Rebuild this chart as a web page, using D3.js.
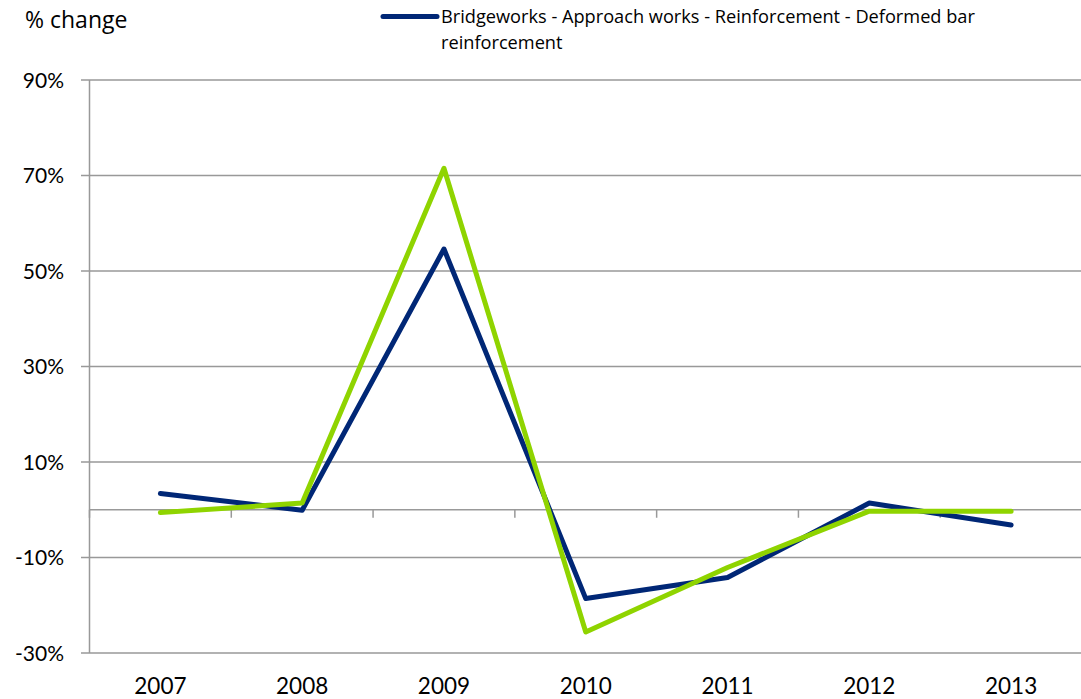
<!DOCTYPE html>
<html><head><meta charset="utf-8">
<script src="https://cdn.jsdelivr.net/npm/d3@7"></script>
<style>
body{margin:0;background:#fff;}
text{font-family:Lato,"Open Sans",sans-serif;fill:#000;}
text.os{font-family:"Open Sans",Lato,sans-serif;}
</style></head><body>
<svg id="c" width="1081" height="699"></svg>
<script>
const years = ["2007","2008","2009","2010","2011","2012","2013"];
const seriesNames = ["Bridgeworks - Approach works - Reinforcement - Deformed bar reinforcement", "Comparison"];
const blueValues = [3.4, -0.1, 54.6, -18.6, -14.2, 1.4, -3.2];
const greenValues = [-0.6, 1.4, 71.5, -25.6, -12.1, -0.3, -0.3];
const yTicks = [-30, -10, 10, 30, 50, 70, 90];
const colors = ["#002776", "#8fd400"];

const svg = d3.select("#c");
const x = d3.scaleBand().domain(years).range([89.5, 1082]);
const y = d3.scaleLinear().domain([-30, 90]).range([653, 80]);

// gridlines
svg.append("g").selectAll("line").data(yTicks).join("line")
  .attr("x1", 81).attr("x2", 1081)
  .attr("y1", d => y(d)).attr("y2", d => y(d))
  .attr("stroke", "#999").attr("stroke-width", 1.5);

// y axis line
svg.append("line").attr("x1", 89.5).attr("x2", 89.5).attr("y1", y(90)).attr("y2", y(-30))
  .attr("stroke", "#999").attr("stroke-width", 1.5);

// zero axis with ticks
const xAxis = d3.axisBottom(x).tickSize(0).tickFormat("");
const zg = svg.append("g").attr("transform", `translate(0,${y(0)})`).call(xAxis);
zg.select(".domain").attr("stroke", "#999").attr("stroke-width", 1.5).attr("d", `M89.5,0H1081`);
const bounds = years.slice(1).map(yr => x(yr));
zg.selectAll(".bt").data([89.5].concat(bounds)).join("line").attr("class","bt")
  .attr("x1", d => d).attr("x2", d => d).attr("y1", 0).attr("y2", 8)
  .attr("stroke", "#999").attr("stroke-width", 1.5);

// y labels
svg.append("g").selectAll("text").data(yTicks).join("text")
  .attr("x", 64).attr("y", d => y(d)).attr("dy", "0.36em")
  .attr("text-anchor", "end").attr("font-size", 21)
  .text(d => d + "%");

// x labels
svg.append("g").selectAll("text").data(years).join("text")
  .attr("x", d => x(d) + x.bandwidth()/2).attr("y", 694)
  .attr("text-anchor", "middle").attr("font-size", 22.5)
  .text(d => d);

// title
svg.append("text").attr("class","os").attr("x", 25).attr("y", 28).attr("font-size", 23).text("% change");

// lines
const line = d3.line().x((d,i) => x(years[i]) + x.bandwidth()/2).y(d => y(d));
[blueValues, greenValues].forEach((vals, k) => {
  svg.append("path").datum(vals).attr("d", line)
    .attr("fill", "none").attr("stroke", colors[k]).attr("stroke-width", 5)
    .attr("stroke-linejoin", "round").attr("stroke-linecap", "round");
});

// legend
svg.append("line").attr("x1", 383).attr("x2", 437).attr("y1", 16.5).attr("y2", 16.5)
  .attr("stroke", colors[0]).attr("stroke-width", 5).attr("stroke-linecap", "round");
const lg = svg.append("text").attr("class","os").attr("x", 441).attr("font-size", 18.2);
lg.append("tspan").attr("x", 441).attr("y", 22.5).text("Bridgeworks - Approach works - Reinforcement - Deformed bar");
lg.append("tspan").attr("x", 441).attr("y", 48.5).text("reinforcement");
</script>
</body></html>
